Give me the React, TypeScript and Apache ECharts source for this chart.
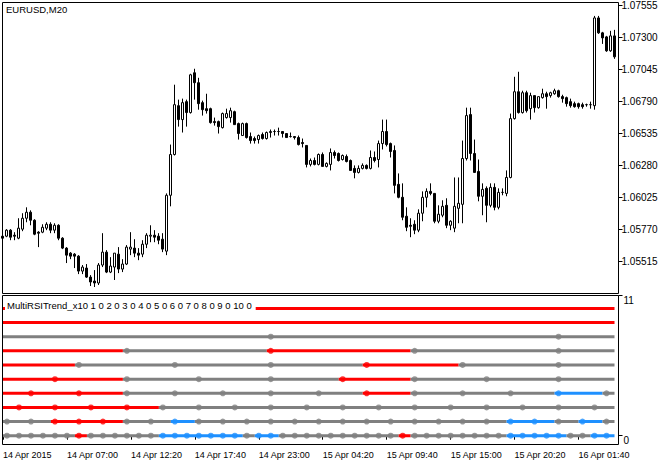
import React, { useEffect, useRef } from 'react';
import * as echarts from 'echarts';

const openPrices = [1.05713,1.05713,1.05761,1.05721,1.05697,1.05769,1.05856,1.05904,1.05840,1.05745,
1.05745,1.05777,1.05808,1.05761,1.05800,1.05697,1.05618,1.05578,1.05570,1.05554,
1.05435,1.05459,1.05387,1.05356,1.05340,1.05483,1.05586,1.05427,1.05467,1.05570,
1.05451,1.05491,1.05610,1.05618,1.05578,1.05570,1.05649,1.05713,1.05721,1.05713,
1.05689,1.05594,1.06039,1.06364,1.06753,1.06642,1.06785,1.06698,1.07015,1.06936,
1.06777,1.06729,1.06729,1.06626,1.06626,1.06578,1.06658,1.06658,1.06705,1.06610,
1.06515,1.06610,1.06507,1.06491,1.06483,1.06523,1.06491,1.06539,1.06547,1.06547,
1.06547,1.06531,1.06507,1.06507,1.06499,1.06459,1.06436,1.06285,1.06316,1.06285,
1.06364,1.06269,1.06285,1.06380,1.06372,1.06324,1.06348,1.06316,1.06253,1.06221,
1.06253,1.06277,1.06253,1.06340,1.06324,1.06451,1.06547,1.06451,1.06396,1.06126,
1.06023,1.05872,1.05800,1.05808,1.05761,1.05896,1.06023,1.06070,1.06054,1.05832,
1.05880,1.05959,1.05800,1.05777,1.05935,1.05967,1.06332,1.06682,1.06372,1.06229,
1.06031,1.06094,1.05959,1.06102,1.05943,1.06062,1.06054,1.06181,1.06650,1.06864,
1.06698,1.06856,1.06729,1.06833,1.06737,1.06817,1.06848,1.06833,1.06848,1.06872,
1.06825,1.06817,1.06785,1.06769,1.06769,1.06761,1.06761,1.06761,1.06753,1.07452,
1.07333,1.07301,1.07190,1.07309];

const closePrices = [1.05697,1.05761,1.05705,1.05713,1.05777,1.05856,1.05904,1.05840,1.05729,1.05737,
1.05784,1.05808,1.05761,1.05800,1.05697,1.05618,1.05562,1.05554,1.05554,1.05435,
1.05467,1.05387,1.05348,1.05340,1.05483,1.05586,1.05427,1.05475,1.05578,1.05451,
1.05491,1.05626,1.05626,1.05578,1.05562,1.05649,1.05721,1.05721,1.05705,1.05681,
1.05610,1.06039,1.06364,1.06761,1.06642,1.06777,1.06698,1.06999,1.06936,1.06769,
1.06721,1.06713,1.06618,1.06618,1.06586,1.06690,1.06690,1.06713,1.06602,1.06531,
1.06610,1.06499,1.06475,1.06475,1.06515,1.06491,1.06539,1.06547,1.06547,1.06547,
1.06531,1.06499,1.06507,1.06499,1.06443,1.06451,1.06285,1.06316,1.06285,1.06364,
1.06269,1.06293,1.06380,1.06356,1.06316,1.06356,1.06308,1.06237,1.06221,1.06253,
1.06277,1.06253,1.06340,1.06316,1.06451,1.06547,1.06443,1.06388,1.06118,1.06023,
1.05864,1.05784,1.05792,1.05761,1.05896,1.06023,1.06070,1.06054,1.05832,1.05888,
1.05951,1.05800,1.05832,1.05951,1.05975,1.06332,1.06674,1.06372,1.06221,1.06031,
1.06086,1.05959,1.06102,1.05943,1.06062,1.06062,1.06181,1.06650,1.06864,1.06698,
1.06856,1.06713,1.06833,1.06737,1.06825,1.06848,1.06825,1.06856,1.06872,1.06825,
1.06809,1.06769,1.06753,1.06745,1.06745,1.06745,1.06761,1.06761,1.07452,1.07333,
1.07293,1.07190,1.07309,1.07142];

const lowPrices = [1.05689,1.05705,1.05681,1.05681,1.05689,1.05753,1.05824,1.05800,1.05721,1.05626,
1.05737,1.05761,1.05737,1.05737,1.05681,1.05610,1.05499,1.05530,1.05459,1.05411,
1.05411,1.05380,1.05316,1.05308,1.05324,1.05467,1.05419,1.05419,1.05364,1.05419,
1.05427,1.05483,1.05562,1.05546,1.05522,1.05546,1.05618,1.05665,1.05665,1.05649,
1.05586,1.05562,1.05951,1.06356,1.06586,1.06539,1.06586,1.06690,1.06801,1.06721,
1.06674,1.06690,1.06610,1.06594,1.06531,1.06571,1.06650,1.06618,1.06602,1.06483,
1.06515,1.06491,1.06451,1.06451,1.06451,1.06483,1.06483,1.06499,1.06515,1.06515,
1.06499,1.06499,1.06499,1.06483,1.06436,1.06420,1.06261,1.06269,1.06277,1.06277,
1.06269,1.06261,1.06237,1.06332,1.06308,1.06316,1.06301,1.06237,1.06174,1.06213,
1.06245,1.06245,1.06245,1.06301,1.06261,1.06404,1.06428,1.06340,1.06054,1.06015,
1.05840,1.05753,1.05705,1.05729,1.05745,1.05832,1.05943,1.06039,1.05816,1.05816,
1.05864,1.05777,1.05761,1.05745,1.05816,1.05816,1.06316,1.06316,1.06221,1.05991,
1.05880,1.05824,1.05943,1.05919,1.05927,1.06039,1.06031,1.06174,1.06642,1.06690,
1.06690,1.06698,1.06642,1.06698,1.06729,1.06809,1.06729,1.06817,1.06840,1.06817,
1.06777,1.06745,1.06737,1.06737,1.06729,1.06729,1.06745,1.06729,1.06721,1.07325,
1.07245,1.07182,1.07182,1.07126];

const highPrices = [1.05721,1.05769,1.05769,1.05745,1.05856,1.05896,1.05943,1.05919,1.05848,1.05753,
1.05808,1.05824,1.05824,1.05816,1.05808,1.05705,1.05626,1.05586,1.05578,1.05562,
1.05483,1.05491,1.05403,1.05443,1.05499,1.05737,1.05602,1.05546,1.05578,1.05626,
1.05530,1.05642,1.05745,1.05689,1.05618,1.05681,1.05737,1.05800,1.05761,1.05737,
1.05737,1.06054,1.06443,1.06920,1.06801,1.06809,1.06801,1.07007,1.07047,1.06975,
1.06793,1.06848,1.06737,1.06658,1.06634,1.06698,1.06729,1.06737,1.06713,1.06618,
1.06618,1.06618,1.06539,1.06507,1.06523,1.06539,1.06547,1.06563,1.06563,1.06578,
1.06547,1.06531,1.06539,1.06507,1.06515,1.06491,1.06436,1.06332,1.06340,1.06372,
1.06380,1.06301,1.06412,1.06396,1.06380,1.06364,1.06364,1.06324,1.06277,1.06277,
1.06293,1.06285,1.06396,1.06388,1.06475,1.06642,1.06642,1.06459,1.06436,1.06213,
1.06134,1.05943,1.05856,1.05840,1.05927,1.06070,1.06094,1.06134,1.06054,1.05959,
1.05999,1.06015,1.05840,1.06181,1.06181,1.06475,1.06737,1.06737,1.06483,1.06324,
1.06134,1.06110,1.06134,1.06134,1.06094,1.06094,1.06237,1.06690,1.06983,1.07023,
1.06872,1.06872,1.06856,1.06833,1.06825,1.06888,1.06864,1.06864,1.06888,1.06880,
1.06840,1.06825,1.06809,1.06785,1.06777,1.06777,1.06769,1.06785,1.07468,1.07468,
1.07341,1.07309,1.07349,1.07357];

const priceTicks = [1.05515, 1.0577, 1.06025, 1.0628, 1.06535, 1.0679, 1.07045, 1.073, 1.07555];
const timeLabels = ['14 Apr 2015', '14 Apr 07:00', '14 Apr 12:20', '14 Apr 17:40', '14 Apr 23:00',
  '15 Apr 04:20', '15 Apr 09:40', '15 Apr 15:00', '15 Apr 20:20', '16 Apr 01:40'];
const indicatorTicks = [0, 11];

// indicator: one level per timeframe row (bottom -> top)
const rowLevels = [0, 1.11, 2.22, 3.33, 4.44, 5.56, 6.67, 7.78, 8.89, 10];
// state changes per row: [first bar, state] ; r = red, g = gray, b = blue
const rowRuns: [number, string][][] = [
  [[0,'g'],[19,'r'],[22,'g'],[40,'b'],[61,'g'],[64,'b'],[70,'g'],[100,'r'],[103,'g'],[127,'b'],[142,'g'],[148,'b']],
  [[0,'g'],[13,'r'],[31,'g'],[43,'b'],[49,'g'],[127,'b'],[139,'g'],[145,'b'],[151,'g']],
  [[0,'r'],[40,'g']],
  [[0,'r'],[31,'g'],[91,'r'],[103,'g'],[139,'b'],[151,'g']],
  [[0,'r'],[31,'g'],[85,'r'],[103,'g']],
  [[0,'r'],[19,'g'],[91,'r'],[115,'g']],
  [[0,'r'],[31,'g'],[67,'r'],[103,'g']],
  [[0,'g']],
  [[0,'r']],
  [[0,'r']],
];
// bars where each row's higher-timeframe bar opens (dots)
const rowDots: number[][] = [
  [1,4,7,10,13,16,19,22,25,28,31,34,37,40,43,46,49,52,55,58,61,64,67,70,73,76,79,82,85,88,91,94,97,100,103,106,109,112,115,118,121,124,127,130,133,136,139,142,145,148,151],
  [1,7,13,19,25,31,37,43,49,55,61,67,73,79,85,91,97,103,109,115,121,127,133,139,145,151],
  [4,13,22,31,40,49,58,67,76,85,94,103,112,121,130,139,148],
  [7,19,31,43,55,67,79,91,103,115,127,139,151],
  [13,31,49,67,85,103,121,139],
  [19,43,67,91,115,139],
  [31,67,103,139],
  [67,139],
  [],
  [],
];

const stateColors: Record<string, string> = { r: '#ff0000', g: '#808080', b: '#1e90ff' };
const FONT = '"Liberation Sans", Arial, sans-serif';

export default function App() {
  const ref = useRef<HTMLDivElement>(null);
  useEffect(() => {
    const chart = echarts.init(ref.current!, null, { renderer: 'svg' });
    const n = openPrices.length;
    const cats = openPrices.map((_, i) => String(i));
    const candles = openPrices.map((o, i) => [o, closePrices[i], lowPrices[i], highPrices[i]]);

    const series: any[] = [
      {
        type: 'candlestick', xAxisIndex: 0, yAxisIndex: 0, data: candles, barWidth: 2,
        itemStyle: { color: '#ffffff', color0: '#000000', borderColor: '#000000', borderColor0: '#000000', borderWidth: 1 },
        silent: true,
      },
    ];
    const dotData: Record<string, number[][]> = { r: [], g: [], b: [] };
    rowRuns.forEach((runs, r) => {
      const lvl = rowLevels[r];
      runs.forEach(([s, c], j) => {
        const e = j + 1 < runs.length ? runs[j + 1][0] : n;
        const x1 = Math.max(s - 1, 0);
        const x2 = e - 1;
        series.push({
          type: 'line', xAxisIndex: 1, yAxisIndex: 1, data: [[x1, lvl], [x2, lvl]],
          symbol: 'none', lineStyle: { color: stateColors[c], width: 3, cap: 'butt' }, silent: true, z: 3,
        });
      });
      rowDots[r].forEach((k) => {
        let st = runs[0][1];
        runs.forEach(([s, c]) => { if (s <= k) st = c; });
        dotData[st].push([k, lvl]);
      });
    });
    Object.keys(dotData).forEach((c) => {
      series.push({
        type: 'scatter', xAxisIndex: 1, yAxisIndex: 1, data: dotData[c], symbol: 'circle', symbolSize: 6,
        itemStyle: { color: stateColors[c] }, silent: true, z: 4,
      });
    });

    const priceLabelStyle = { color: '#000', fontSize: 10, fontFamily: FONT };
    const timeLabelStyle = { color: '#000', fontSize: 9, fontFamily: FONT };
    chart.setOption({
      animation: false,
      backgroundColor: '#ffffff',
      grid: [
        { left: 0.5, top: 2, width: 616, height: 291 },
        { left: 0.5, top: 295, width: 616, height: 149 },
      ],
      xAxis: [
        { type: 'category', gridIndex: 0, data: cats, boundaryGap: true, show: false },
        {
          type: 'category', gridIndex: 1, data: cats, boundaryGap: true,
          axisLine: { show: false },
          axisTick: { show: true, alignWithLabel: true, interval: (i: number) => i % 16 === 0, length: 4, lineStyle: { color: '#000' } },
          axisLabel: {
            ...timeLabelStyle, interval: (i: number) => i % 16 === 0, align: 'left', margin: 6,
            formatter: (_v: string, i: number) => (i % 16 === 0 ? timeLabels[i / 16] || '' : ''),
          },
          splitLine: { show: false },
        },
      ],
      yAxis: [
        {
          type: 'value', gridIndex: 0, position: 'right', offset: 2, min: 1.052604, max: 1.075709,
          axisLine: { show: false },
          axisTick: { show: true, length: 4, customValues: priceTicks, lineStyle: { color: '#000' } },
          axisLabel: { ...priceLabelStyle, customValues: priceTicks, margin: 3, formatter: (v: number) => v.toFixed(5) },
          splitLine: { show: false },
        },
        {
          type: 'value', gridIndex: 1, position: 'right', offset: 2, min: -0.652, max: 11.055,
          axisLine: { show: false },
          axisTick: { show: true, length: 4, customValues: indicatorTicks, lineStyle: { color: '#000' } },
          axisLabel: { ...priceLabelStyle, customValues: indicatorTicks, margin: 5, verticalAlign: 'top', formatter: (v: number) => String(Math.round(v)) },
          splitLine: { show: false },
        },
      ],
      series,
      graphic: [
        { type: 'rect', z: 100, silent: true, shape: { x: 2.5, y: 2.5, width: 616, height: 291 }, style: { fill: 'none', stroke: '#000', lineWidth: 1 } },
        { type: 'rect', z: 100, silent: true, shape: { x: 2.5, y: 295.5, width: 616, height: 149 }, style: { fill: 'none', stroke: '#000', lineWidth: 1 } },
        { type: 'text', z: 100, silent: true, x: 6, y: 4, style: { text: 'EURUSD,M20', fill: '#000', fontSize: 9.5, fontFamily: FONT, verticalAlign: 'top' } },
        {
          type: 'text', z: 100, silent: true, x: 5, y: 299,
          style: {
            text: 'MultiRSITrend_x10 1 0 2 0 3 0 4 0 5 0 6 0 7 0 8 0 9 0 10 0', fill: '#000', fontSize: 9.5, fontFamily: FONT,
            verticalAlign: 'top', backgroundColor: '#ffffff', padding: [1, 4, 2, 2],
          },
        },
      ],
    });
    return () => chart.dispose();
  }, []);
  return <div ref={ref} style={{ position: 'fixed', left: 0, top: 0, width: 667, height: 462 }} />;
}
